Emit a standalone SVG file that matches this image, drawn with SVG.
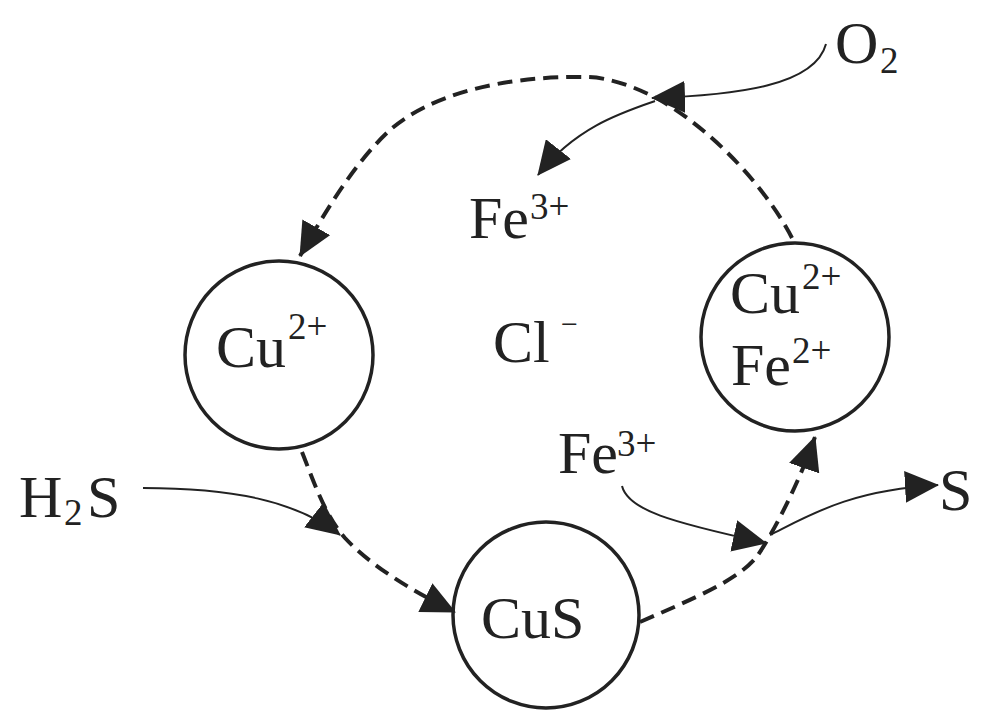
<svg xmlns="http://www.w3.org/2000/svg" width="989" height="715" viewBox="0 0 989 715">
<style>
.node{fill:none;stroke:#222;stroke-width:3.5}
.t{font-family:"Liberation Serif","Times New Roman",serif;font-size:60px;fill:#222}
.s{font-size:37px}
.m{font-size:30px}
.dash{fill:none;stroke:#222;stroke-width:4;stroke-dasharray:15 8}
.thin{fill:none;stroke:#222;stroke-width:2}
</style>
<defs>
<marker id="ah" markerUnits="userSpaceOnUse" markerWidth="34" markerHeight="32" viewBox="0 0 34 32" refX="33" refY="16" orient="auto">
<path d="M0,0 L34,16 L0,32 Z" fill="#222"/>
</marker>
</defs>
<rect width="989" height="715" fill="#fff"/>
<g id="connectors">
<path class="dash" d="M792,238 C770,195 720,135 660,100 C630,84 605,77 585,77 C500,76 430,95 390,130 C355,162 325,212 300,256" marker-end="url(#ah)"/>
<path class="thin" d="M826,44 C815,85 740,95 652,98" marker-end="url(#ah)"/>
<path class="thin" d="M655,101 C620,113 575,128 538,175" marker-end="url(#ah)"/>
<path class="thin" d="M143,488 C230,488 295,500 340,535" marker-end="url(#ah)"/>
<path class="dash" d="M302,452 C315,485 325,515 345,538 C370,565 410,590 455,612" marker-end="url(#ah)"/>
<path class="dash" d="M640,622 C690,600 740,580 758,555 C775,530 800,480 815,437" marker-end="url(#ah)"/>
<path class="thin" d="M622,486 C628,510 670,522 766,543" marker-end="url(#ah)"/>
<path class="thin" d="M770,535 C810,515 850,490 938,485" marker-end="url(#ah)"/>
</g>
<g id="node-cu-left">
<circle class="node" cx="279" cy="355" r="94"/>
<text class="t" x="216" y="367">Cu<tspan class="s" x="288" y="339">2+</tspan></text>
</g>
<g id="node-cus">
<circle class="node" cx="546" cy="615" r="93"/>
<text class="t" x="481" y="638">CuS</text>
</g>
<g id="node-cu-fe">
<circle class="node" cx="795" cy="337" r="94"/>
<text class="t" x="730" y="313">Cu<tspan class="s" x="802" y="289">2+</tspan></text>
<text class="t" x="731" y="385">Fe<tspan class="s" x="792" y="363">2+</tspan></text>
</g>
<g id="label-o2"><text class="t" x="835" y="63">O<tspan class="s" x="880" y="73">2</tspan></text></g>
<g id="label-fe3-top"><text class="t" x="469" y="238">Fe<tspan class="s" x="530" y="219">3+</tspan></text></g>
<g id="label-cl"><text class="t" x="493" y="362">Cl<tspan class="m" x="561" y="334">−</tspan></text></g>
<g id="label-fe3-low"><text class="t" x="558" y="473">Fe<tspan class="s" x="617" y="456">3+</tspan></text></g>
<g id="label-h2s"><text class="t" x="19" y="517">H<tspan class="s" x="64" y="525">2</tspan><tspan x="87" y="517">S</tspan></text></g>
<g id="label-s"><text class="t" x="939" y="510">S</text></g>
</svg>
